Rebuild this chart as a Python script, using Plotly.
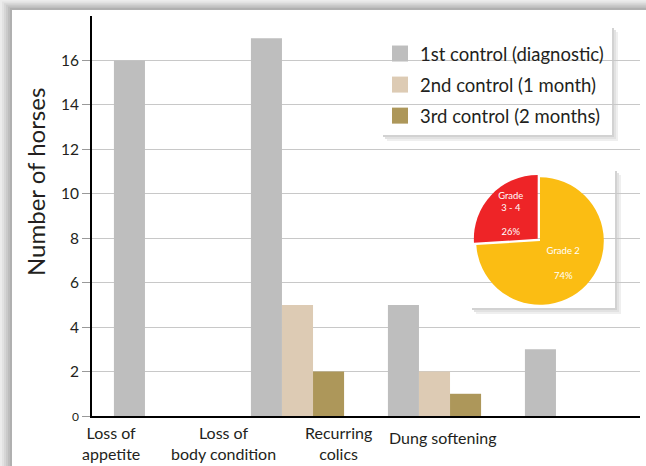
import plotly.graph_objects as go

categories = ["Loss of<br>appetite", "Loss of<br>body condition", "Recurring<br>colics", "Dung softening"]
first_control = [16, 17, 5, 3]
second_control = [None, 5, 2, None]
third_control = [None, 2, 1, None]
series_names = ["1st control (diagnostic)", "2nd control (1 month)", "3rd control (2 months)"]
series_colors = ["#bebebe", "#ddcbb4", "#ad975a"]
y_ticks = [0, 2, 4, 6, 8, 10, 12, 14, 16]
y_title = "Number of horses"
label_positions = [-0.365, 0.46, 1.30, 2.06]

pie_labels = ["Grade 2", "Grade<br>3 - 4"]
pie_values = [74, 26]
pie_colors = ["#fbbd13", "#ee2427"]

FONT = "Lato"
TXT = "#231f20"

fig = go.Figure()
xs = list(range(len(categories)))
for name, vals, col in zip(series_names, [first_control, second_control, third_control], series_colors):
    fig.add_trace(go.Bar(x=xs, y=vals, name=name, marker=dict(color=col, line=dict(width=0)),
                         showlegend=False, hoverinfo="y"))
for i, (name, col) in enumerate(zip(series_names, series_colors)):
    fig.add_trace(go.Scatter(x=[None], y=[None], mode="markers", name=name, legendgroup=f"g{i}",
                             marker=dict(symbol="square", size=16, color=col)))

fig.add_trace(go.Pie(labels=pie_labels, values=pie_values, sort=False, direction="counterclockwise",
                     rotation=0, pull=[0, 0.05], marker=dict(colors=pie_colors, line=dict(width=0)),
                     texttemplate="%{label}<br><br>%{percent:.0%}", textposition="inside",
                     insidetextorientation="horizontal",
                     textfont=dict(family=FONT, size=9.5, color="white"),
                     domain=dict(x=[0.695, 0.940], y=[0.27, 0.605]), showlegend=False))

W, H = 646, 466
L, R, T, B = 92, 6, 16, 50
pw, ph = W - L - R, H - T - B
def px(x): return (x - L) / pw
def py(y): return (H - B - y) / ph

shapes = []
# card background shadow edges (darker near the card)
shapes.append(dict(type="rect", xref="paper", yref="paper", x0=px(0), x1=px(W + 5), y0=py(H + 5), y1=py(0),
                   fillcolor="#f2f2f2", line=dict(width=0), layer="below"))
grays = ["#ececec", "#e2e2e2", "#d6d6d6", "#cacaca", "#bdbdbd", "#b0b0b0"]
for i, g in enumerate(grays):
    shapes.append(dict(type="rect", xref="paper", yref="paper", x0=px(2 * i), x1=px(W + 5), y0=py(H + 5), y1=py(1.6 * i),
                       fillcolor=g, line=dict(width=0), layer="below"))
shapes.append(dict(type="rect", xref="paper", yref="paper", x0=px(12), x1=px(W + 5), y0=py(H + 5), y1=py(10),
                   fillcolor="white", line=dict(width=0), layer="below"))
# pie box shadow + box
for off, g in [(6, "#efefef"), (4, "#e2e2e2"), (2, "#d2d2d2")]:
    shapes.append(dict(type="rect", xref="paper", yref="paper", x0=px(471 + off - 1), x1=px(615 + off), y0=py(308 + off), y1=py(170 + off - 1),
                       fillcolor=g, line=dict(width=0), layer="between"))
shapes.append(dict(type="rect", xref="paper", yref="paper", x0=px(471), x1=px(615), y0=py(308), y1=py(170),
                   fillcolor="white", line=dict(width=0), layer="between"))
# legend box shadow + box
for off, g in [(6, "#efefef"), (4, "#e2e2e2"), (2, "#d2d2d2")]:
    shapes.append(dict(type="rect", xref="paper", yref="paper", x0=px(382 + off - 1), x1=px(612 + off), y0=py(135 + off), y1=py(27 + off - 1),
                       fillcolor=g, line=dict(width=0), layer="between"))
shapes.append(dict(type="rect", xref="paper", yref="paper", x0=px(382), x1=px(612), y0=py(135), y1=py(27),
                   fillcolor="white", line=dict(width=0), layer="between"))

annotations = []
for pos, cat in zip(label_positions, categories):
    annotations.append(dict(x=pos, y=py(465), xref="x", yref="paper", text=cat,
                            showarrow=False, xanchor="center", yanchor="bottom" if "<br>" in cat else "middle",
                            font=dict(size=16, color=TXT, family=FONT)))
annotations[-1]["y"] = py(437)
annotations.append(dict(x=px(35), y=py(182), xref="paper", yref="paper", text=y_title, textangle=-90,
                        showarrow=False, xanchor="center", yanchor="middle",
                        font=dict(size=24, color=TXT, family=FONT)))

tick_text = [f'<span style="font-size:12px">{v}</span>' if v == 0 else str(v) for v in y_ticks]

fig.update_layout(
    width=W, height=H, margin=dict(l=L, r=R, t=T, b=B),
    paper_bgcolor="white", plot_bgcolor="rgba(0,0,0,0)",
    font=dict(family=FONT, color=TXT),
    barmode="group", bargap=0.32, bargroupgap=0,
    shapes=shapes, annotations=annotations,
    xaxis=dict(range=[-0.5, 3.5], showticklabels=False, ticks="", automargin=False,
               showgrid=False, zeroline=False, showline=True, linecolor="black", linewidth=2),
    yaxis=dict(range=[0, 18], tickvals=y_ticks, ticktext=tick_text, ticks="outside", ticklen=8,
               tickcolor="#999999", tickwidth=1, showgrid=True, gridcolor="#c8c8c8", gridwidth=1,
               zeroline=False, showline=True, linecolor="black", linewidth=2, automargin=False,
               tickfont=dict(size=15.5, color=TXT)),
    legend=dict(x=px(380), y=py(35), xanchor="left", yanchor="top", bgcolor="rgba(0,0,0,0)",
                font=dict(size=18.5, color=TXT), tracegroupgap=4, itemsizing="trace", itemwidth=30),
)

fig.write_html("out.html", config={"displayModeBar": False},
               post_script="document.body.style.margin='0';document.body.style.overflow='hidden';")
